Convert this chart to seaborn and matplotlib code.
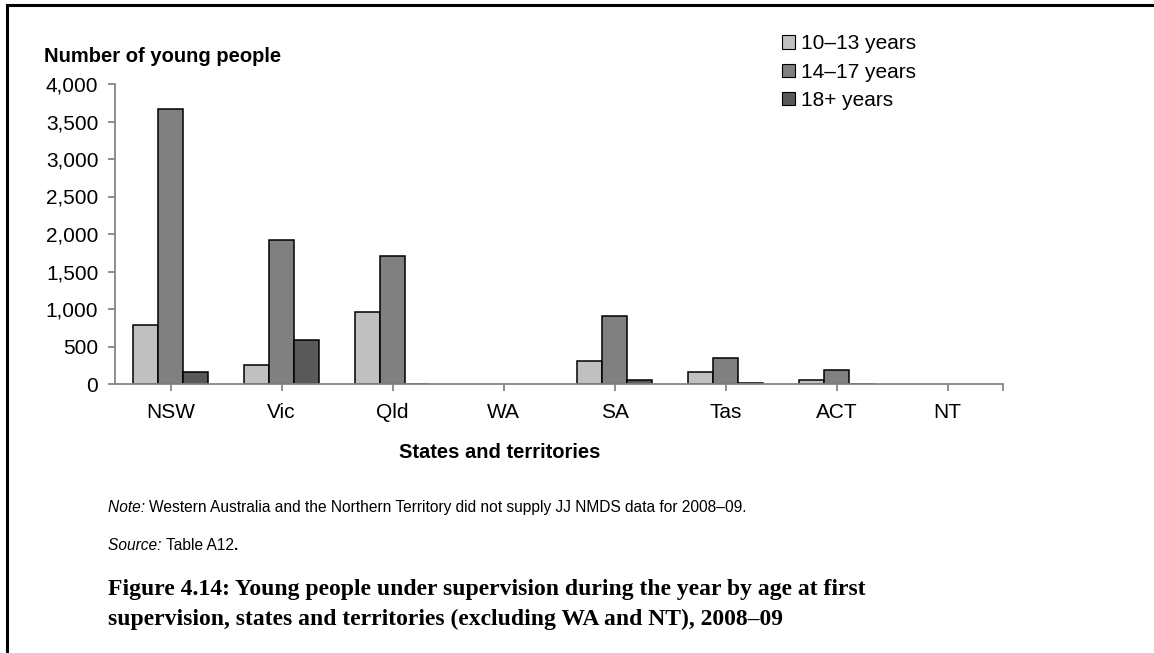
import numpy as np
import pandas as pd
import matplotlib
matplotlib.use("Agg")
import matplotlib.pyplot as plt
from matplotlib.patches import Rectangle, Patch
from matplotlib.ticker import FuncFormatter
import seaborn as sns

sns.set_theme(style="white")
plt.rcParams['font.family'] = ['Liberation Sans', 'DejaVu Sans']
plt.rcParams['text.color'] = 'black'
plt.rcParams['axes.labelcolor'] = 'black'

# values (WA and NT did not supply data)
states = ['NSW', 'Vic', 'Qld', 'WA', 'SA', 'Tas', 'ACT', 'NT']
age_groups = ['10\u201313 years', '14\u201317 years', '18+ years']
age_10_13 = [790, 253, 956, np.nan, 302, 160, 48, np.nan]
age_14_17 = [3665, 1916, 1711, np.nan, 911, 342, 191, np.nan]
age_18_plus = [155, 585, 6, np.nan, 58, 13, 4, np.nan]
bar_colors = ['#C0C0C0', '#808080', '#595959']

df = pd.DataFrame({
    'state': states * 3,
    'age': [a for a in age_groups for _ in states],
    'count': age_10_13 + age_14_17 + age_18_plus,
})

fig = plt.figure(figsize=(11.54, 6.53), dpi=100)
ax = fig.add_axes([115 / 1154, 1 - 384 / 653, 888 / 1154, 300 / 653])

sns.barplot(data=df, x='state', y='count', hue='age', order=states,
            hue_order=age_groups, palette=bar_colors, width=0.667, gap=0,
            edgecolor='black', linewidth=1.1, saturation=1, ax=ax,
            legend=False)

ax.set_xlim(-0.5, 7.5)
ax.set_ylim(0, 4000)
ax.set_yticks(np.arange(0, 4001, 500))
ax.yaxis.set_major_formatter(FuncFormatter(lambda v, p: f'{int(v):,}'))
ax.set_xticks(range(len(states)), states)
ax.set_xticks([7.5], minor=True)

for side in ['top', 'right']:
    ax.spines[side].set_visible(False)
for side in ['left', 'bottom']:
    ax.spines[side].set_color('#868686')
    ax.spines[side].set_linewidth(1.3)

ax.tick_params(axis='both', which='both', direction='out', color='#868686',
               width=1.3, labelsize=15, labelcolor='black')
ax.tick_params(axis='x', which='both', length=5, pad=9, bottom=True)
ax.tick_params(axis='y', length=5, pad=7, left=True)

ax.set_ylabel('Number of young people', rotation=0, ha='left', va='center',
              fontsize=14.5, fontweight='bold')
ax.yaxis.set_label_coords((44 - 115) / 888, (384 - 57) / 300)
ax.set_xlabel('States and territories', fontsize=14.5, fontweight='bold')
ax.xaxis.set_label_coords((500 - 115) / 888, (384 - 443) / 300)

handles = [Patch(facecolor=c, edgecolor='black', linewidth=0.8) for c in bar_colors]
fig.legend(handles, age_groups, loc='upper left',
           bbox_to_anchor=(772 / 1154, 1 - 24 / 653), frameon=False,
           fontsize=15, handlelength=0.6, handleheight=0.6, handletextpad=0.3,
           labelspacing=0.45, borderpad=0)

# notes and caption, pieces laid out one after another on a shared baseline
renderer = fig.canvas.get_renderer()


def run_text(x_px, y_px, parts, size):
    x = x_px
    for s, kw in parts:
        t = fig.text(x / 1154, 1 - y_px / 653, s, fontsize=size,
                     va='baseline', **kw)
        x = t.get_window_extent(renderer).x1


run_text(108, 512, [('Note: ', {'style': 'italic'}),
                    ('Western Australia and the Northern Territory did not '
                     'supply JJ NMDS data for 2008\u201309.', {})], 11.2)
run_text(108, 550, [('Source: ', {'style': 'italic'}),
                    ('Table A12', {}),
                    ('.', {'fontweight': 'bold'})], 11.2)

fig.text(108 / 1154, 1 - 590 / 653,
         'Figure 4.14: Young people under supervision during the year by age at first',
         family=['Liberation Serif'], fontweight='bold', fontsize=17, va='center')
fig.text(108 / 1154, 1 - 619 / 653,
         'supervision, states and territories (excluding WA and NT), 2008\u201309',
         family=['Liberation Serif'], fontweight='bold', fontsize=17, va='center')

# outer frame
fig.patches.append(Rectangle((7 / 1154, -0.1), 1.2, 1 - 5 / 653 + 0.1,
                             transform=fig.transFigure, fill=False,
                             edgecolor='black', linewidth=2.2, clip_on=False))

fig.savefig('out.png', dpi=100, facecolor='white')
